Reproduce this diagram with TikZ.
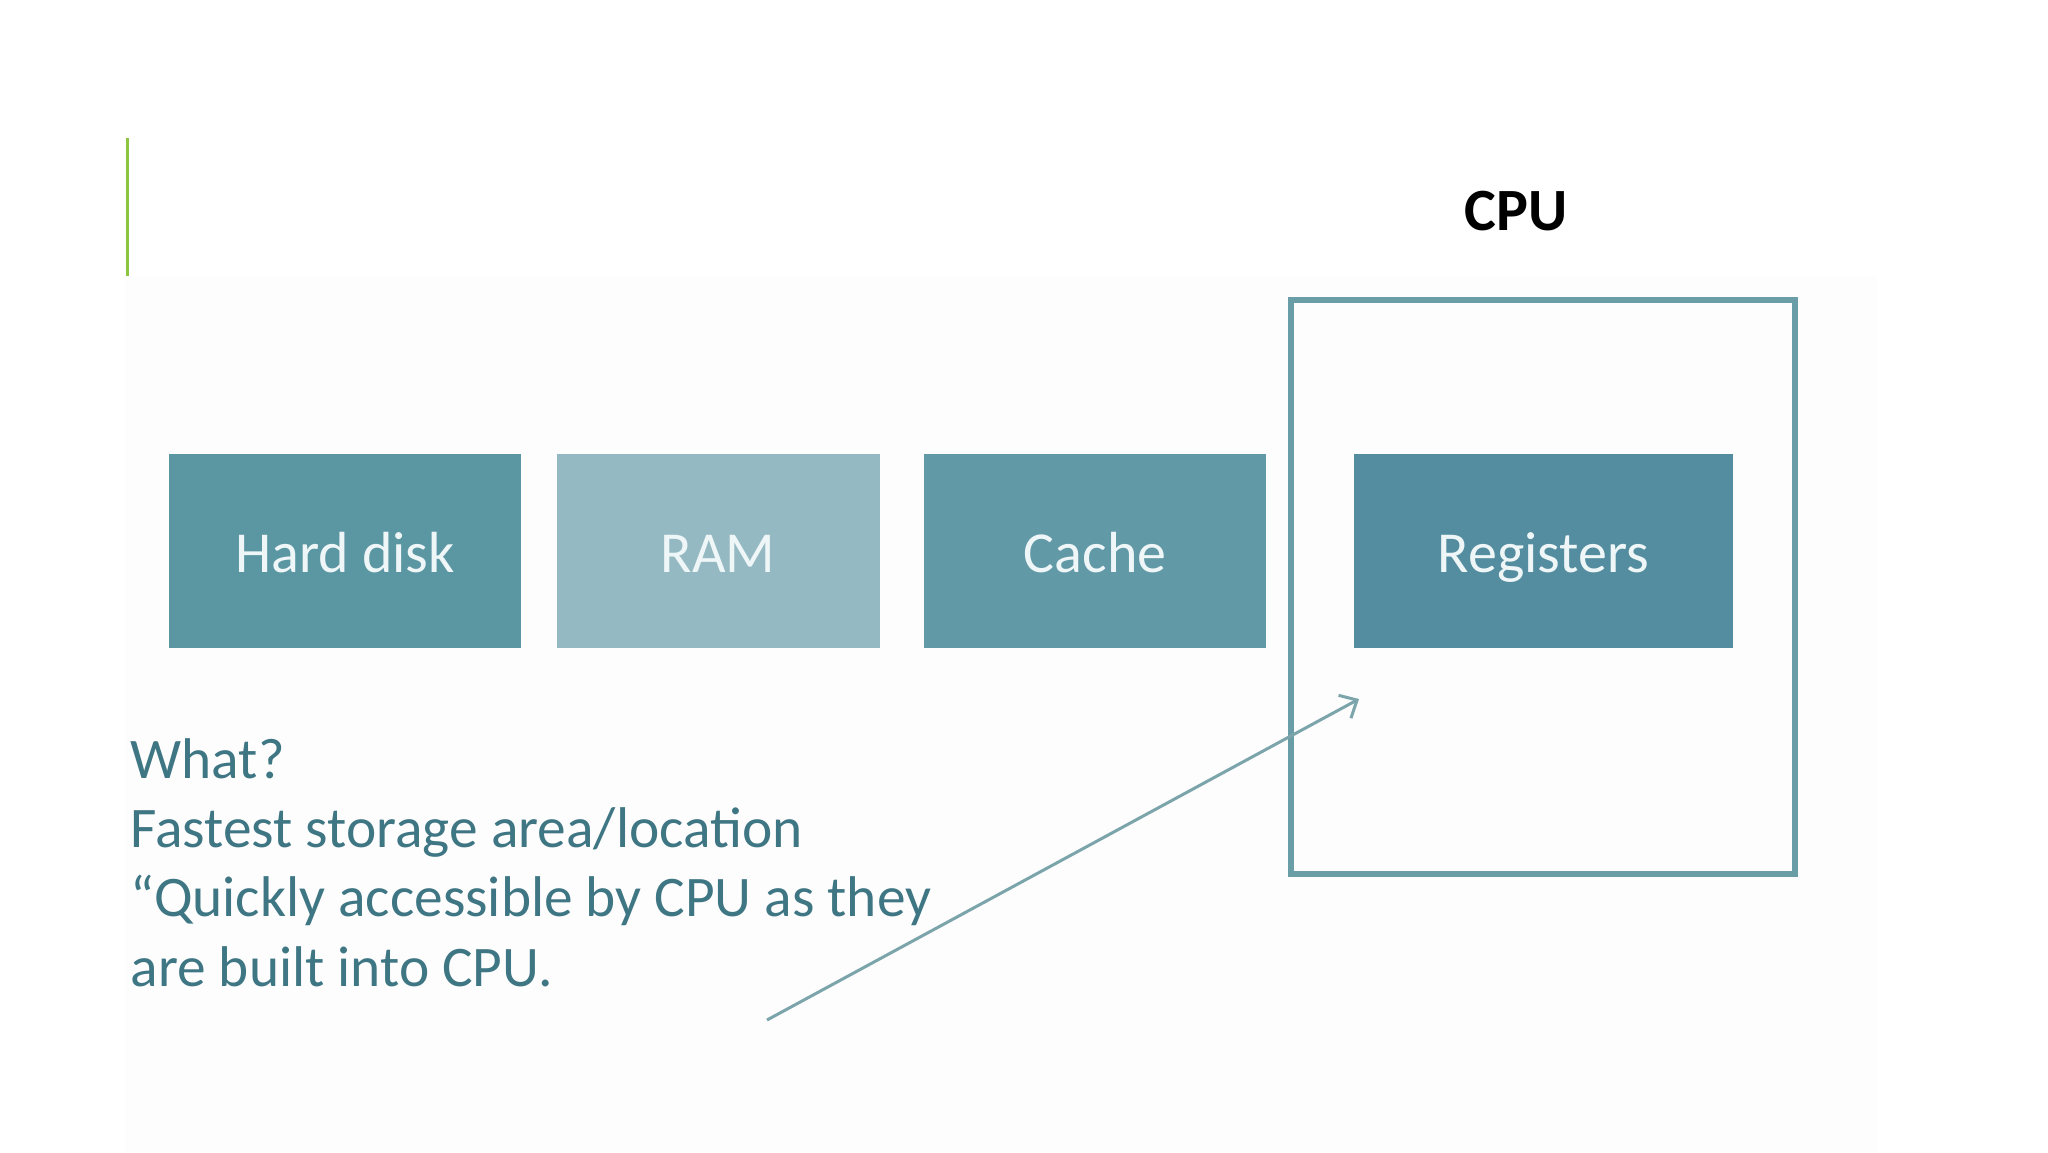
\documentclass[tikz,border=0pt]{standalone}
\usepackage{fontspec}
\setmainfont{Carlito}
\usetikzlibrary{arrows.meta}
\definecolor{greenbar}{HTML}{8CC63F}
\definecolor{hdcol}{HTML}{5B96A3}
\definecolor{ramcol}{HTML}{95B9C3}
\definecolor{cachecol}{HTML}{6299A7}
\definecolor{regcol}{HTML}{548D9F}
\definecolor{framecol}{HTML}{6A9EA6}
\definecolor{txtcol}{HTML}{3F7683}
\definecolor{boxtxt}{HTML}{EEF6F7}
\definecolor{arrcol}{HTML}{7BA4AB}
\definecolor{bgfaint}{HTML}{FDFDFE}
\tikzset{
  membox/.style={minimum height=194.8pt, inner sep=0pt, text=boxtxt,
    text height=54pt, text depth=12pt,
    font=\fontsize{58}{60}\selectfont},
  cpuframe/.style={draw=framecol, line width=6.5pt, minimum width=504pt,
    minimum height=574pt, inner sep=0pt},
}
\begin{document}
\begin{tikzpicture}[x=1pt,y=-1pt]
\useasboundingbox (0,0) rectangle (2048,1152);
\fill[white] (0,0) rectangle (2048,1152);
\fill[bgfaint] (125,276) rectangle (1877,1152);
\draw[greenbar, line width=3pt] (127.5,138) -- (127.5,276);
\node[font=\bfseries\fontsize{60}{62}\selectfont] (cpu) at (1516,211) {CPU};
\node[cpuframe] (cpubox) at (1543,587) {};
\node[membox, fill=hdcol, minimum width=352.8pt] (hd) at (345.0,551) {Hard disk};
\node[membox, fill=ramcol, minimum width=322.7pt] (ram) at (718.2,551) {RAM};
\node[membox, fill=cachecol, minimum width=342.4pt] (cache) at (1095.2,551) {Cache};
\node[membox, fill=regcol, minimum width=379.1pt] (reg) at (1543.4,551) {Registers};
\node[anchor=base west, align=left, inner sep=0pt, text=txtcol,
  font=\fontsize{57.4}{69.2}\selectfont] (desc) at (130.4,986)
  {What?\\Fastest storage area/location\\“Quickly accessible by CPU as they\\are built into CPU.};
\coordinate (as) at (767,1020);
\coordinate (ae) at (1359,699);
\draw[arrcol, line width=3pt, -{Straight Barb[length=14pt,width=26pt]}] (as) -- (ae);
\end{tikzpicture}
\end{document}
